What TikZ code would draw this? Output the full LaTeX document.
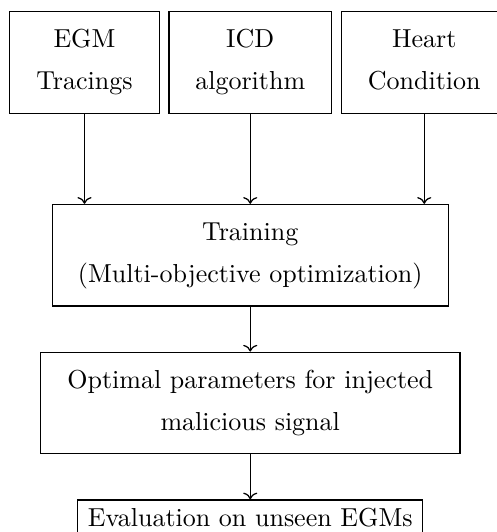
\documentclass[tikz,border=0pt]{standalone}
\usetikzlibrary{arrows.meta, positioning}

\begin{document}
\begin{tikzpicture}[
        node distance=3.4pt,
        block/.style={rectangle, draw, line width=0.5pt, align=center, inner sep=0pt, text depth=2.2pt, minimum height=40.6pt, font=\fontsize{10.4}{16.8}\selectfont},
        arrow/.style={-{To}, line width=0.5pt}
        ]

        \useasboundingbox (-100.1pt,25pt) rectangle (98.3pt,-187.8pt);

        % inputs
        \node[block, minimum width=65pt] (icd) at (0,0) {ICD\\algorithm};
        \node[block, minimum width=59.8pt, left=of icd] (egm) {EGM\\Tracings};
        \node[block, minimum width=66.4pt, right=of icd] (heart) {Heart\\Condition};

        % pipeline
        \node[block, minimum width=158.4pt, below=36pt of icd] (training) {Training\\(Multi-objective optimization)};
        \node[block, minimum width=167.7pt, below=18pt of training] (optimal) {Optimal parameters for injected\\malicious signal};
        \node[block, minimum width=138pt, minimum height=0pt, inner ysep=3.4pt, below=18pt of optimal] (eval) {Evaluation on unseen EGMs};

        \draw[arrow] (egm.south) -- (egm.south |- training.north);
        \draw[arrow] (icd.south) -- (training.north);
        \draw[arrow] (heart.south) -- (heart.south |- training.north);
        \draw[arrow] (training) -- (optimal);
        \draw[arrow] (optimal) -- (eval);

    \end{tikzpicture}
\end{document}
